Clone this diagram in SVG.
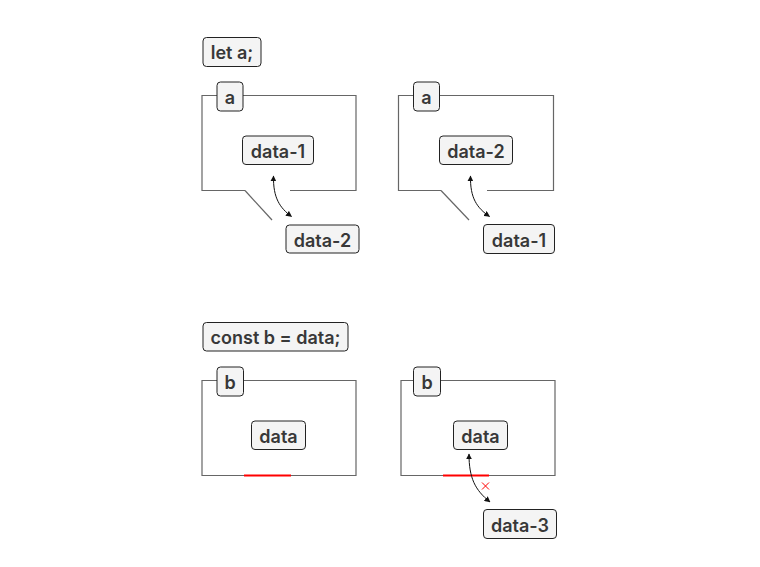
<svg xmlns="http://www.w3.org/2000/svg" width="760" height="567" viewBox="0 0 760 567">
<style>
.frame{fill:none;stroke:#666;stroke-width:1.2}
.box{fill:#f4f4f4;stroke:#222;stroke-width:1}
.lbl{font-family:Inter,"Noto Sans","Liberation Sans",sans-serif;font-size:18px;font-weight:600;fill:#383838;text-anchor:middle}
.conn{fill:none;stroke:#111;stroke-width:1}
.red{stroke:#f00;stroke-width:2;fill:none}
.x{stroke:#f00;stroke-width:1;fill:none}
</style>
<defs>
<marker id="ah" viewBox="0 0 10 10" refX="9" refY="5" markerWidth="6" markerHeight="6" orient="auto-start-reverse" markerUnits="userSpaceOnUse">
<path d="M0,0 L10,5 L0,10 z" fill="#111"/>
</marker>
</defs>
<rect width="760" height="567" fill="#fff"/>

<g id="frames">
<path class="frame" d="M245,190.5 L202,190.5 L202,95.5 L356,95.5 L356,190.5 L290,190.5"/>
<path class="frame" d="M245,190.5 L272,220"/>
<path class="frame" d="M441,190.5 L398.5,190.5 L398.5,95.5 L553.5,95.5 L553.5,190.5 L487,190.5"/>
<path class="frame" d="M441,190.5 L469,220"/>
<path class="frame" d="M202,380.5 L356,380.5 L356,475.5 L202,475.5 Z"/>
<path class="frame" d="M401,380.5 L555,380.5 L555,475.5 L401,475.5 Z"/>
<line class="red" x1="244" y1="475.5" x2="291" y2="475.5"/>
<line class="red" x1="443" y1="475.5" x2="489" y2="475.5"/>
</g>

<g id="connectors">
<path class="conn" d="M273.5,176 C273,198 280,208 291.5,216.5" marker-start="url(#ah)" marker-end="url(#ah)"/>
<path class="conn" d="M470.5,176 C470,198 477,208 489.5,216.5" marker-start="url(#ah)" marker-end="url(#ah)"/>
<path class="conn" d="M469,454 C469,478 475,490 490,502" marker-start="url(#ah)" marker-end="url(#ah)"/>
<path class="x" d="M482,482.5 L489,489.5 M489,482.5 L482,489.5"/>
</g>

<g id="let-a"><rect class="box" x="203" y="37.5" width="58" height="29" rx="3.5"/><text class="lbl" x="232" y="59">let a;</text></g>
<g id="a-label-1"><rect class="box" x="217" y="82" width="26" height="29" rx="3.5"/><text class="lbl" x="230" y="103.5">a</text></g>
<g id="data-1-in"><rect class="box" x="242.5" y="136" width="71" height="28.5" rx="3.5"/><text class="lbl" x="278" y="157.5">data-1</text></g>
<g id="data-2-out"><rect class="box" x="286" y="225" width="73" height="28" rx="3.5"/><text class="lbl" x="322.5" y="246.5">data-2</text></g>

<g id="a-label-2"><rect class="box" x="413.5" y="82" width="26" height="29" rx="3.5"/><text class="lbl" x="426.5" y="103.5">a</text></g>
<g id="data-2-in"><rect class="box" x="439.5" y="136" width="73" height="28.5" rx="3.5"/><text class="lbl" x="476" y="157.5">data-2</text></g>
<g id="data-1-out"><rect class="box" x="483.5" y="224.5" width="71" height="29" rx="3.5"/><text class="lbl" x="519" y="246.5">data-1</text></g>

<g id="const-b"><rect class="box" x="203" y="322.5" width="145" height="28.5" rx="3.5"/><text class="lbl" x="275.5" y="344">const b = data;</text></g>
<g id="b-label-1"><rect class="box" x="217" y="367" width="26.5" height="29" rx="3.5"/><text class="lbl" x="230.2" y="388.5">b</text></g>
<g id="data-in-1"><rect class="box" x="251.5" y="421" width="54" height="28.5" rx="3.5"/><text class="lbl" x="278.5" y="442.5">data</text></g>

<g id="b-label-2"><rect class="box" x="413.5" y="367" width="27" height="29" rx="3.5"/><text class="lbl" x="427" y="388.5">b</text></g>
<g id="data-in-2"><rect class="box" x="453.5" y="421" width="54" height="28.5" rx="3.5"/><text class="lbl" x="480.5" y="442.5">data</text></g>
<g id="data-3"><rect class="box" x="483.5" y="509.5" width="73" height="29" rx="3.5"/><text class="lbl" x="520" y="531.5">data-3</text></g>
</svg>
